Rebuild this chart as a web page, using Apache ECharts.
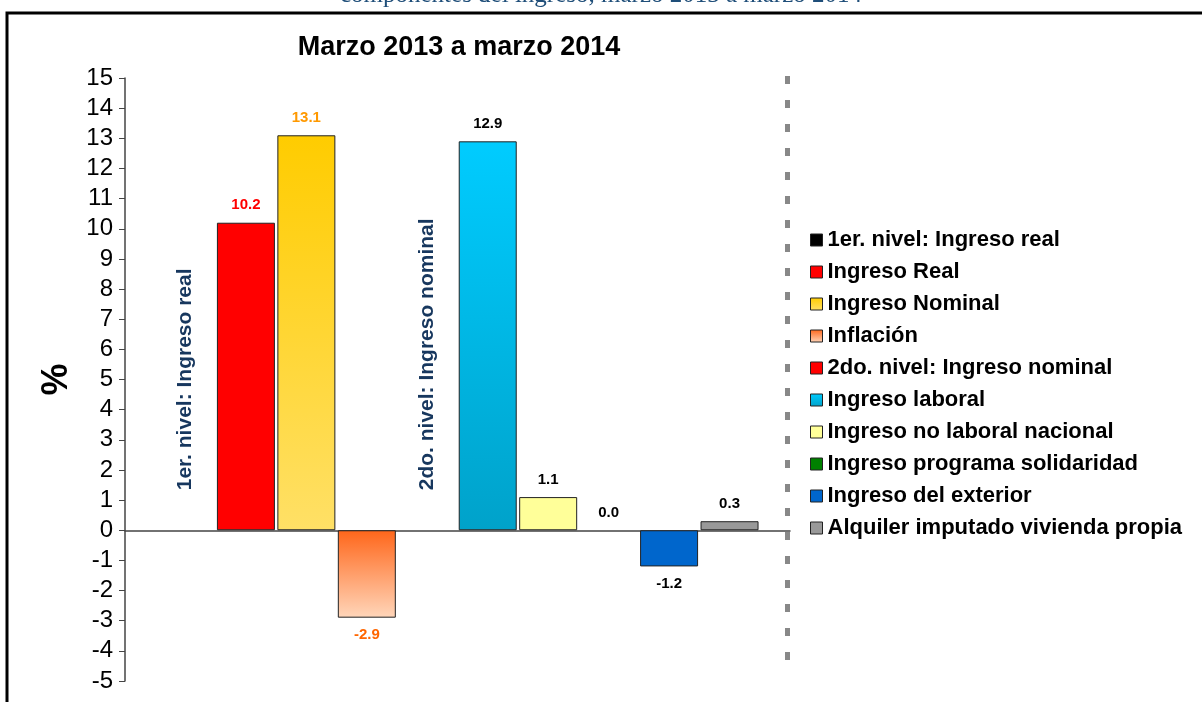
<!DOCTYPE html>
<html>
<head>
<meta charset="utf-8">
<script src="https://cdn.jsdelivr.net/npm/echarts@6/dist/echarts.min.js"></script>
<style>
  html, body { margin: 0; padding: 0; background: #fff; }
  #chart { width: 1202px; height: 702px; }
</style>
</head>
<body>
<div id="chart"></div>
<script>
// slots along the x axis (0..11), bars sit on ticks 1..10
var slots = ['', 's1', 's2', 's3', 's4', 's5', 's6', 's7', 's8', 's9', 's10', ''];

var seriesNames = [
  '1er. nivel: Ingreso real',
  'Ingreso Real',
  'Ingreso Nominal',
  'Inflación',
  '2do. nivel: Ingreso nominal',
  'Ingreso laboral',
  'Ingreso no laboral nacional',
  'Ingreso programa solidaridad',
  'Ingreso del exterior',
  'Alquiler imputado vivienda propia'
];
var seriesValues = [0, 10.2, 13.1, -2.9, 0, 12.9, 1.1, 0.0, -1.2, 0.3];
var seriesSlot = [1, 2, 3, 4, 5, 6, 7, 8, 9, 10];
var isLevel = [true, false, false, false, true, false, false, false, false, false];

var yMin = -5, yMax = 15;

function grad(top, bottom) {
  return new echarts.graphic.LinearGradient(0, 0, 0, 1, [
    { offset: 0, color: top },
    { offset: 1, color: bottom }
  ]);
}

var barColors = [
  '#000000',
  '#FF0000',
  grad('#FFCC00', '#FFE066'),
  grad('#FF661A', '#FFD6BA'),
  '#FF0000',
  grad('#00CCFF', '#00A2CA'),
  '#FFFF99',
  '#008000',
  '#0066CC',
  '#999999'
];
var labelColors = ['#17375E', '#FF0000', '#FF9900', '#FF6600', '#17375E',
  '#000000', '#000000', '#000000', '#000000', '#000000'];

var chart = echarts.init(document.getElementById('chart'));

var series = seriesNames.map(function (name, i) {
  var data = slots.map(function () { return null; });
  var v = seriesValues[i];
  data[seriesSlot[i]] = v === 0 ? { value: v, itemStyle: { borderWidth: 0 } } : v;
  var label;
  if (isLevel[i]) {
    label = {
      show: true,
      formatter: '{a}',
      position: 'top',
      rotate: 90,
      align: 'left',
      verticalAlign: 'middle',
      distance: 40,
      color: labelColors[i],
      fontFamily: 'Liberation Sans Narrow, Liberation Sans, Arial',
      fontWeight: 'bold',
      fontSize: 21
    };
  } else {
    label = {
      show: true,
      position: v < 0 ? 'bottom' : 'top',
      distance: 10,
      formatter: function (p) { return p.value.toFixed(1); },
      color: labelColors[i],
      fontFamily: 'Liberation Sans, Arial',
      fontWeight: 'bold',
      fontSize: 15
    };
  }
  return {
    name: name,
    type: 'bar',
    stack: 'all',
    barWidth: 58,
    data: data,
    itemStyle: {
      color: barColors[i],
      borderColor: isLevel[i] ? 'transparent' : '#222',
      borderWidth: isLevel[i] ? 0 : 1
    },
    label: label,
    emphasis: { disabled: true },
    animation: false
  };
});

var option = {
  animation: false,
  backgroundColor: '#fff',
  title: {
    text: 'Marzo 2013 a marzo 2014',
    left: 454,
    textAlign: 'center',
    top: 29,
    textStyle: { fontFamily: 'Liberation Sans, Arial', fontWeight: 'bold', fontSize: 27, color: '#000' }
  },
  grid: { left: 125, right: 412, top: 78, bottom: 21, containLabel: false },
  legend: {
    orient: 'vertical',
    left: 805,
    top: 224,
    itemWidth: 12,
    itemHeight: 12,
    itemGap: 10,
    icon: 'rect',
    selectedMode: false,
    data: seriesNames,
    itemStyle: { borderColor: '#222', borderWidth: 1 },
    textStyle: { fontFamily: 'Liberation Sans, Arial', fontWeight: 'bold', fontSize: 22, color: '#000' }
  },
  xAxis: {
    type: 'category',
    data: slots,
    boundaryGap: false,
    axisLine: { onZero: true, lineStyle: { color: '#444', width: 1.5 } },
    axisTick: { show: false },
    axisLabel: { show: false },
    splitLine: { show: false }
  },
  yAxis: {
    type: 'value',
    min: yMin,
    max: yMax,
    interval: 1,
    name: '%',
    nameLocation: 'middle',
    nameGap: 50,
    nameMoveOverlap: false,
    nameTextStyle: { fontFamily: 'Liberation Sans, Arial', fontWeight: 'bold', fontSize: 36, color: '#000' },
    axisLine: { show: true, lineStyle: { color: '#444', width: 1.5 } },
    axisTick: { show: true, length: 6, lineStyle: { color: '#444' } },
    axisLabel: { margin: 12, fontFamily: 'Liberation Sans, Arial', fontSize: 24, color: '#000' },
    splitLine: { show: false }
  },
  graphic: [
    {
      type: 'text',
      left: 'center',
      top: -17,
      style: {
        text: 'componentes del ingreso, marzo 2013 a marzo 2014',
        fontFamily: 'Liberation Serif, DejaVu Serif, serif',
        fontSize: 25,
        fill: '#1F4E79'
      }
    },
    {
      type: 'polyline',
      shape: { points: [[7, 702], [7, 13], [1202, 13]] },
      style: { stroke: '#000', lineWidth: 3, fill: null }
    },
    {
      type: 'line',
      shape: { x1: 787.5, y1: 76, x2: 787.5, y2: 662 },
      style: { stroke: '#888', lineWidth: 5, lineDash: [8, 16] }
    }
  ],
  series: series
};

chart.setOption(option);
</script>
</body>
</html>
